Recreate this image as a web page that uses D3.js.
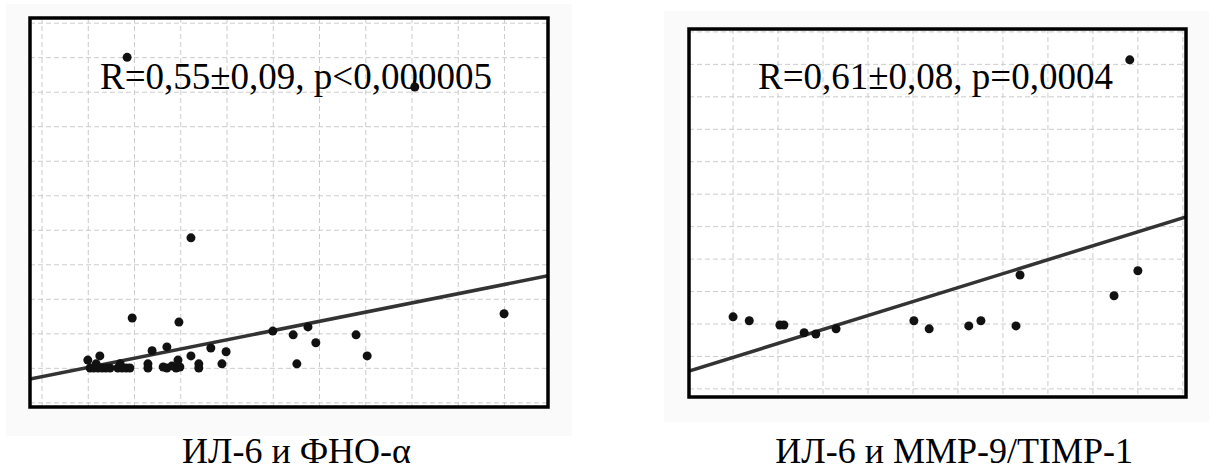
<!DOCTYPE html>
<html lang="ru">
  <head>
    <meta charset="UTF-8" />
    <title>ИЛ-6 корреляции</title>
  </head>
  <style type="text/css">
    body {
      margin: 0;
      background: #ffffff;
    }
  </style>
  <script src="https://d3js.org/d3.v7.min.js"></script>

  <body>
    <div class="d3Chart"></div>
  </body>
  <script type="text/javascript">
    // ИЛ-6 и ФНО-α
    const leftX = [
      1.84, 8.06, 3.22, 1.95, 2.96, 4.99, 5.43, 5.51, 5.75, 5.92, 6.79, 7.03, 9.99, 3.65, 3.98, 3.89, 3.39, 3.39,
      3.22, 2.94, 2.7, 2.38, 2.29, 2.29, 2.62, 2.7, 2.81, 2.9, 2.98, 1.25, 0.99, 1.04, 1.12, 1.21, 1.3, 1.38, 1.47,
      1.64, 1.73, 1.82, 1.9, 1.17, 1.69
    ]
    const leftY = [
      10.01, 9.15, 4.78, 2.46, 2.34, 2.08, 1.97, 1.13, 2.2, 1.74, 1.97, 1.36, 2.58, 1.59, 1.48, 1.13, 1.13, 1.01,
      1.36, 1.24, 1.62, 1.51, 1.13, 1.01, 1.04, 1.01, 1.07, 1.01, 1.04, 1.36, 1.24, 1.01, 1.01, 1.01, 1.01, 1.01,
      1.01, 1.01, 1.01, 1.01, 1.01, 1.13, 1.13
    ]
    const leftFit = { intercept: 0.76, slope: 0.267 }

    // ИЛ-6 и MMP-9/TIMP-1
    const rightX = [9.82, 1.0, 1.36, 2.04, 2.13, 2.58, 2.84, 3.29, 5.02, 5.36, 6.24, 6.51, 7.29, 7.38, 9.47, 10.0]
    const rightY = [10.14, 2.22, 2.1, 1.97, 1.97, 1.73, 1.69, 1.85, 2.1, 1.85, 1.94, 2.1, 1.94, 3.51, 2.87, 3.64]
    const rightFit = { intercept: 0.54, slope: 0.43 }

    // сетка
    const gridX = [0, 1, 2, 3, 4, 5, 6, 7, 8, 9, 10, 11]
    const gridY = [0, 1, 2, 3, 4, 5, 6, 7, 8, 9, 10, 11]

    const labels = ['R=0,55±0,09, p<0,000005', 'R=0,61±0,08, p=0,0004']
    const captions = ['ИЛ-6 и ФНО-α', 'ИЛ-6 и MMP-9/TIMP-1']

    const width = 1210
    const height = 471
    const svg = d3.select('.d3Chart').append('svg').attr('width', width).attr('height', height)

    const panels = [
      {
        id: 'left',
        bg: [6, 4, 566, 432],
        box: [30, 18, 548, 407],
        xDomain: [-0.26, 10.94],
        yDomain: [-0.12, 11.15],
        xs: leftX,
        ys: leftY,
        fit: leftFit,
        label: labels[0],
        labelX: 100,
        caption: captions[0],
        captionX: 182,
        captionAnchor: 'start',
        captionY: 463
      },
      {
        id: 'right',
        bg: [664, 11, 545, 411],
        box: [689, 29, 1186, 397],
        xDomain: [0.02, 11.07],
        yDomain: [-0.25, 11.09],
        xs: rightX,
        ys: rightY,
        fit: rightFit,
        label: labels[1],
        labelX: 758,
        caption: captions[1],
        captionX: 1133,
        captionAnchor: 'end',
        captionY: 463
      }
    ]

    panels.forEach((p) => {
      const [x0, y0, x1, y1] = p.box
      const x = d3.scaleLinear().domain(p.xDomain).range([x0, x1])
      const y = d3.scaleLinear().domain(p.yDomain).range([y1, y0])

      svg
        .append('rect')
        .attr('x', p.bg[0])
        .attr('y', p.bg[1])
        .attr('width', p.bg[2])
        .attr('height', p.bg[3])
        .attr('fill', '#fafafa')

      svg
        .append('rect')
        .attr('x', x0)
        .attr('y', y0)
        .attr('width', x1 - x0)
        .attr('height', y1 - y0)
        .attr('fill', '#ffffff')

      svg
        .append('clipPath')
        .attr('id', 'clip-' + p.id)
        .append('rect')
        .attr('x', x0)
        .attr('y', y0)
        .attr('width', x1 - x0)
        .attr('height', y1 - y0)

      const g = svg.append('g').attr('clip-path', `url(#clip-${p.id})`)

      // сетка
      g.append('g')
        .selectAll()
        .data(gridX.filter((v) => x(v) > x0 + 2 && x(v) < x1 - 2))
        .join('line')
        .attr('x1', (d) => x(d))
        .attr('x2', (d) => x(d))
        .attr('y1', y0)
        .attr('y2', y1)
        .attr('stroke', '#cccccc')
        .attr('stroke-dasharray', '5,3')

      g.append('g')
        .selectAll()
        .data(gridY.filter((v) => y(v) > y0 + 2 && y(v) < y1 - 2))
        .join('line')
        .attr('x1', x0)
        .attr('x2', x1)
        .attr('y1', (d) => y(d))
        .attr('y2', (d) => y(d))
        .attr('stroke', '#cccccc')
        .attr('stroke-dasharray', '5,3')

      g.append('text')
        .attr('x', p.labelX)
        .attr('y', 89)
        .style('font', '37px "Liberation Serif", "Times New Roman", serif')
        .attr('fill', '#000')
        .text(p.label)

      // линия регрессии
      g.append('line')
        .attr('x1', x(p.xDomain[0]))
        .attr('y1', y(p.fit.intercept + p.fit.slope * p.xDomain[0]))
        .attr('x2', x(p.xDomain[1]))
        .attr('y2', y(p.fit.intercept + p.fit.slope * p.xDomain[1]))
        .attr('stroke', '#333333')
        .attr('stroke-width', 3.5)

      g.append('g')
        .selectAll()
        .data(p.xs.map((v, i) => [v, p.ys[i]]))
        .join('circle')
        .attr('cx', (d) => x(d[0]))
        .attr('cy', (d) => y(d[1]))
        .attr('r', 4.5)
        .attr('fill', '#111111')

      // рамка
      svg
        .append('rect')
        .attr('x', x0)
        .attr('y', y0)
        .attr('width', x1 - x0)
        .attr('height', y1 - y0)
        .attr('fill', 'none')
        .attr('stroke', '#000')
        .attr('stroke-width', 3.5)

      svg
        .append('text')
        .attr('x', p.captionX)
        .attr('y', p.captionY)
        .attr('text-anchor', p.captionAnchor)
        .style('font', '36px "Liberation Serif", "Times New Roman", serif')
        .attr('fill', '#000')
        .text(p.caption)
    })
  </script>
</html>
